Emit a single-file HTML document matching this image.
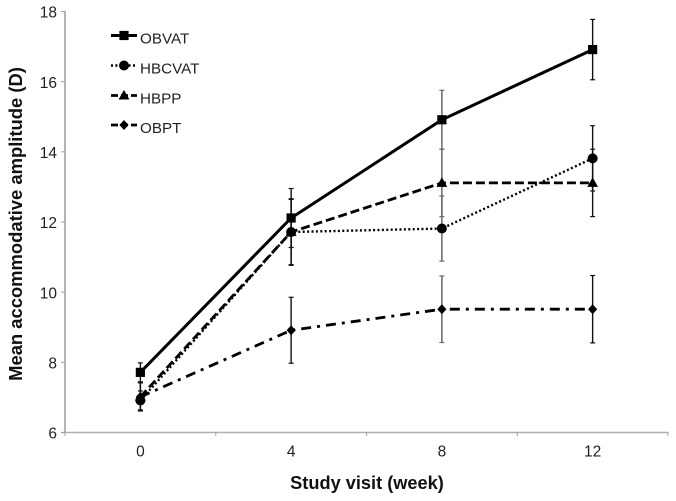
<!DOCTYPE html>
<html lang="en">
<head>
<meta charset="utf-8">
<title>Mean accommodative amplitude by study visit</title>
<style>
html,body{margin:0;padding:0;background:#fff;}
svg{display:block;font-family:"Liberation Sans",Arial,sans-serif;filter:blur(0.3px);}
</style>
</head>
<body>
<svg id="chart" width="676" height="501" viewBox="0 0 676 501" xmlns="http://www.w3.org/2000/svg">
<rect x="0" y="0" width="676" height="501" fill="#fff"/>
<text transform="translate(22,224) rotate(-90)" text-anchor="middle" font-size="18.4" font-weight="bold" fill="#111">Mean accommodative amplitude (D)</text>
<text x="367" y="489" text-anchor="middle" font-size="18.2" font-weight="bold" fill="#111">Study visit (week)</text>
</svg>
<script>
const categories = ["0", "4", "8", "12"];
const yTickValues = [6, 8, 10, 12, 14, 16, 18];
const seriesNames = ["OBVAT", "HBCVAT", "HBPP", "OBPT"];
const obvatValues = [7.7, 12.1, 14.9, 16.9];
const hbcvatValues = [6.9, 11.7, 11.8, 13.8];
const hbppValues = [7.0, 11.7, 13.1, 13.1];
const obptValues = [7.0, 8.9, 9.5, 9.5];
const obvatErrors = [0.27, 0.84, 0.84, 0.86];
const hbcvatErrors = [0.27, 0.93, 0.93, 0.93];
const hbppErrors = [0.4, 0.95, 0.96, 0.96];
const obptErrors = [0.4, 0.94, 0.95, 0.96];

const NS = "http://www.w3.org/2000/svg";
const svg = document.getElementById("chart");
const plot = {left: 65, right: 668, top: 11, bottom: 432};
const yMin = 6, yMax = 18;
const bandWidth = (plot.right - plot.left) / categories.length;
function xScale(i) { return plot.left + bandWidth * (i + 0.5); }
function yScale(v) { return plot.bottom - (v - yMin) / (yMax - yMin) * (plot.bottom - plot.top); }
function make(tag, attrs, parent) {
  const el = document.createElementNS(NS, tag);
  for (const k in attrs) el.setAttribute(k, attrs[k]);
  (parent || svg).appendChild(el);
  return el;
}
function drawMarker(kind, cx, cy, parent) {
  if (kind === "square") return make("rect", {x: cx - 4.6, y: cy - 4.6, width: 9.2, height: 9.2, fill: "#000"}, parent);
  if (kind === "circle") return make("circle", {cx: cx, cy: cy, r: 5, fill: "#000"}, parent);
  if (kind === "triangle") return make("polygon", {points: `${cx},${cy - 5.6} ${cx + 5.4},${cy + 4} ${cx - 5.4},${cy + 4}`, fill: "#000"}, parent);
  return make("polygon", {points: `${cx},${cy - 5} ${cx + 4.6},${cy} ${cx},${cy + 5} ${cx - 4.6},${cy}`, fill: "#000"}, parent);
}

// axes
const yAxis = make("line", {x1: plot.left, x2: plot.left, y1: plot.top, y2: plot.bottom, stroke: "#b4b4b4", "stroke-width": 2});


const xAxis = make("line", {x1: plot.left - 3, x2: plot.right + 0.5, y1: plot.bottom + 0.5, y2: plot.bottom + 0.5, stroke: "#b0b0b0", "stroke-width": 1.5});



yTickValues.forEach(function (v) {
  const y = yScale(v);
  const tick = make("line", {x1: plot.left - 4, x2: plot.left, y1: y + 0.5, y2: y + 0.5, stroke: "#a0a0a0", "stroke-width": 1});
  
  
  const label = make("text", {x: 57, y: y + 6.7, "text-anchor": "end", "font-size": 15.5, fill: "#222"});
  label.textContent = v;
  
  
});

for (let i = 0; i <= categories.length; i++) {
  const x = plot.left + bandWidth * i;
  const tick = make("line", {x1: x, x2: x, y1: plot.bottom, y2: plot.bottom + 4, stroke: "#a0a0a0", "stroke-width": 1});
  
  
}
categories.forEach(function (c, i) {
  const label = make("text", {x: xScale(i), y: 456.5, "text-anchor": "middle", "font-size": 15.5, fill: "#222"});
  label.textContent = c;
  
  
});

// series
const seriesStyles = [
  {values: obvatValues, errors: obvatErrors, marker: "square", dash: "none", width: 3},
  {values: hbcvatValues, errors: hbcvatErrors, marker: "circle", dash: "2 2.4", width: 2.4},
  {values: hbppValues, errors: hbppErrors, marker: "triangle", dash: "9 4", width: 2.8},
  {values: obptValues, errors: obptErrors, marker: "diamond", dash: "10 6 3 6", width: 2.8}
];

// error bars are painted beneath all lines and markers; week 8 whiskers are grey
seriesStyles.forEach(function (s) {
  s.values.forEach(function (v, i) {
    const x = xScale(i);
    const yHi = yScale(v + s.errors[i]);
    const yLo = yScale(v - s.errors[i]);
    const color = i === 2 ? "#707070" : "#111";
    const g = make("g", {stroke: color, "stroke-width": i === 2 ? 1.6 : 1.4, fill: "none"});
    
    
    make("line", {x1: x, x2: x, y1: yHi, y2: yLo}, g);
    make("line", {x1: x - 2.5, x2: x + 2.5, y1: yHi, y2: yHi, "stroke-width": 1.2}, g);
    make("line", {x1: x - 2.5, x2: x + 2.5, y1: yLo, y2: yLo, "stroke-width": 1.2}, g);
  });
});

seriesStyles.forEach(function (s, idx) {
  const g = make("g", {});
  
  
  const pts = s.values.map(function (v, i) { return xScale(i) + "," + yScale(v); }).join(" ");
  const attrs = {points: pts, fill: "none", stroke: "#000", "stroke-width": s.width};
  if (s.dash !== "none") attrs["stroke-dasharray"] = s.dash;
  make("polyline", attrs, g);
  s.values.forEach(function (v, i) {
    const m = drawMarker(s.marker, xScale(i), yScale(v), g);
    
    
  });
});

// legend
const legendRowY = [35.5, 65.5, 95.5, 125];
const legendDash = ["none", "2 2.4", "7 3", "7 3"];
seriesNames.forEach(function (name, i) {
  const s = seriesStyles[i];
  const g = make("g", {});
  
  
  const y = legendRowY[i];
  const attrs = {x1: 111, x2: 137, y1: y, y2: y, stroke: "#000", "stroke-width": s.width};
  if (legendDash[i] !== "none") attrs["stroke-dasharray"] = legendDash[i];
  make("line", attrs, g);
  drawMarker(s.marker, 124, y, g);
  const label = make("text", {x: 140, y: y + 8, "font-size": 15.2, fill: "#222"}, g);
  label.textContent = name;
});
</script>
</body>
</html>
